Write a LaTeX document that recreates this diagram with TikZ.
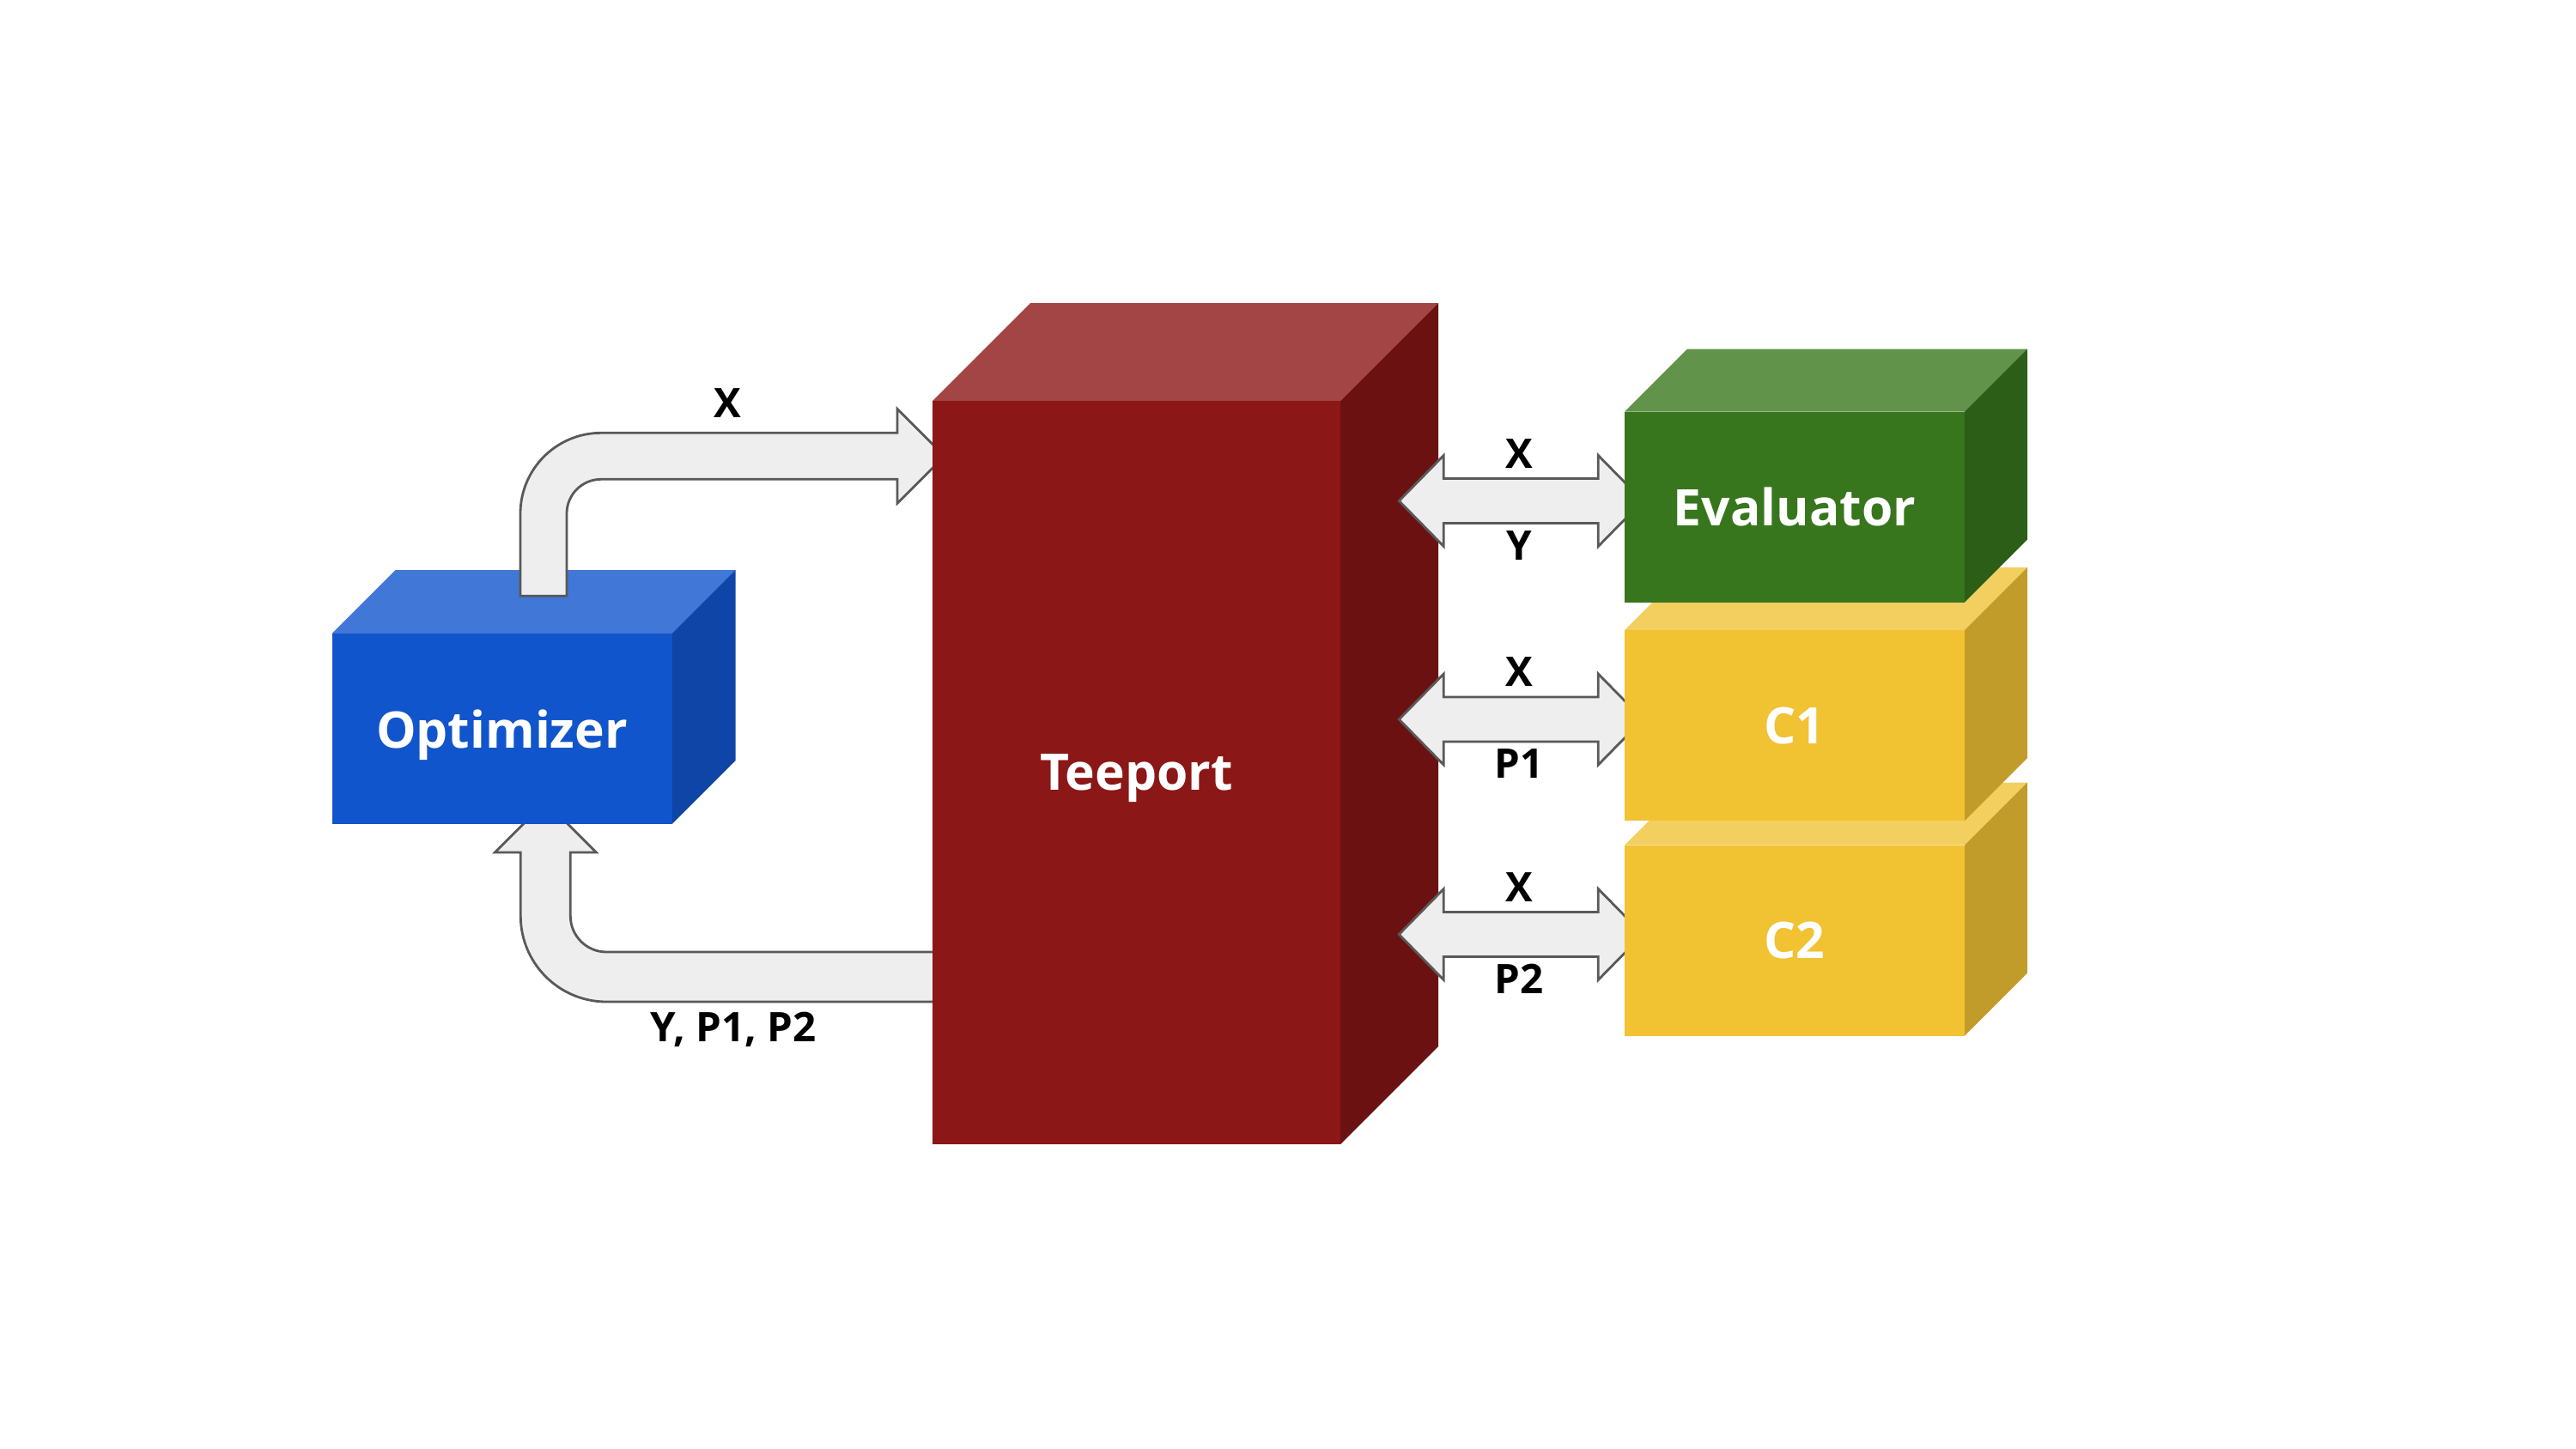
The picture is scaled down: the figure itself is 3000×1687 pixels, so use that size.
\documentclass[tikz,border=0pt]{standalone}
\usepackage{fontspec}
\setmainfont{Open Sans}
\usetikzlibrary{calc}
\definecolor{bluefront}{HTML}{1155CC}
\definecolor{bluetop}{HTML}{4177D7}
\definecolor{blueside}{HTML}{0E45A6}
\definecolor{redfront}{HTML}{8B1717}
\definecolor{redtop}{HTML}{A34545}
\definecolor{redside}{HTML}{6C1111}
\definecolor{greenfront}{HTML}{38761D}
\definecolor{greentop}{HTML}{62934A}
\definecolor{greenside}{HTML}{2D5E18}
\definecolor{goldfront}{HTML}{F1C232}
\definecolor{goldtop}{HTML}{F3CF5F}
\definecolor{goldside}{HTML}{C19C2A}
\definecolor{arrowgrey}{HTML}{EEEEEE}
\definecolor{arrowline}{HTML}{595959}
\pgfdeclarelayer{back}
\pgfdeclarelayer{front}
\pgfsetlayers{back,main,front}
\tikzset{
	box/.style={inner sep=0pt, text=white, text depth=0pt, font=\bfseries\fontsize{16.7}{20}\selectfont},
	lbl/.style={font=\bfseries\fontsize{13.5}{16}\selectfont},
	blockarrow/.style={fill=arrowgrey, draw=arrowline, line width=0.8pt}
}
\newcommand{\cube}[7]{%
% name, centre, width, height, depth, colour, text
  \pgfmathsetmacro{\hw}{#3/2}
  \pgfmathsetmacro{\hh}{#4/2}
  \fill[#6top] ($(#2)+(-\hw,-\hh)$) -- ++(#5,-#5) -- ++(#3,0) -- ++(-#5,#5) -- cycle;
  \fill[#6side] ($(#2)+(\hw,-\hh)$) -- ++(#5,-#5) -- ++(0,#4) -- ++(-#5,#5) -- cycle;
  \node[box, fill=#6front, minimum width=#3*0.01cm, minimum height=#4*0.01cm] (#1) at (#2) {#7};
}
\newcommand{\dblarrow}[3]{%
% box, upper label, lower label
  \draw[blockarrow] ($(#1.west)+(-262,-7)$) coordinate (#1-tip) -- ++(52,-53) -- ++(0,27)
       -- ++(180,0) -- ++(0,-27) -- ++(52,53) -- ++(-52,53) -- ++(0,-27)
       -- ++(-180,0) -- ++(0,27) -- cycle;
  \node[lbl] (#1-up) at ($(#1-tip)+(140,-55)$) {#2};
  \node[lbl] (#1-down) at ($(#1-tip)+(140,52)$) {#3};
}

\begin{document}
\begin{tikzpicture}[x=0.01cm, y=-0.01cm]
  \useasboundingbox (0,0) rectangle (3000,1687);
  \cube{tee}{1323.5,900}{475}{866}{114}{red}{Teeport}
  \begin{pgfonlayer}{front}
    \cube{c2}{2090,1095.5}{396}{222}{73}{gold}{C2}
    \cube{c1}{2090,845}{396}{222}{73}{gold}{C1}
    \cube{ev}{2090,590.5}{396}{222}{73}{green}{Evaluator}
  \end{pgfonlayer}
  \dblarrow{ev}{X}{Y}
  \dblarrow{c1}{X}{P1}
  \dblarrow{c2}{X}{P2}
  \begin{pgfonlayer}{back}
    % results back to the optimizer
    \draw[blockarrow] ($(tee.west)+(14,267)$) -- ++(-393,0) arc (90:180:100) -- ++(0,-74)
         -- ++(-30,0) -- ++(59,-59) -- ++(59,59) -- ++(-30,0) -- ++(0,74)
         arc (180:90:42) -- ++(393,0) -- cycle;
    \cube{opt}{584.5,849}{396}{222}{74}{blue}{Optimizer}
    % design variables to teeport
    \draw[blockarrow] ($(opt.north)+(21.5,-43)$) -- ++(0,-96) arc (180:270:94) -- ++(345,0)
         -- ++(0,-28) -- ++(55,55) -- ++(-55,55) -- ++(0,-28) -- ++(-345,0)
         arc (270:180:40) -- ++(0,96) -- cycle;
  \end{pgfonlayer}
  \node[lbl] (xlbl) at (847,470) {X};
  \node[lbl] (ylbl) at (854,1199) {Y, P1, P2};
\end{tikzpicture}
\end{document}
